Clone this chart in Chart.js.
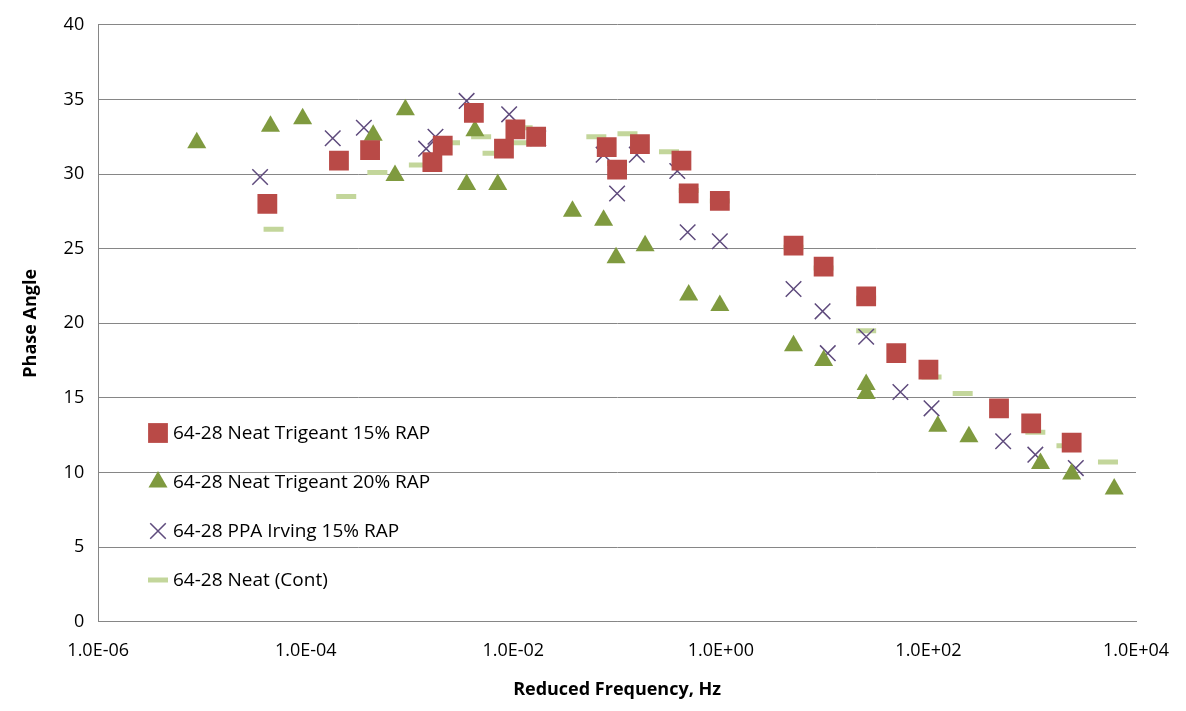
<!DOCTYPE html>
<html>
<head>
<meta charset="utf-8">
<script src="https://cdn.jsdelivr.net/npm/chart.js@4.4.0/dist/chart.umd.min.js"></script>
<style>
  html, body { margin: 0; padding: 0; background: #fff; }
  #wrap { width: 1186px; height: 711px; }
</style>
</head>
<body>
<div id="wrap"><canvas id="c"></canvas></div>
<script>
// log10 of reduced frequency, phase angle
const trig15X = [-4.37,-3.68,-3.38,-2.78,-2.68,-2.38,-2.09,-1.98,-1.78,-1.10,-1.00,-0.78,-0.38,-0.31,-0.01,0.70,0.99,1.40,1.69,2.00,2.68,2.99,3.38];
const trig15Y = [28.0,30.9,31.6,30.8,31.9,34.1,31.7,33.0,32.5,31.8,30.3,32.0,30.9,28.7,28.2,25.2,23.8,21.8,18.0,16.9,14.3,13.3,12.0];

const trig20X = [-5.05,-4.34,-4.03,-3.35,-3.14,-3.04,-2.37,-2.45,-2.15,-1.43,-1.13,-1.01,-0.73,-0.31,-0.01,0.70,0.99,1.40,1.40,2.09,2.39,3.08,3.38,3.79];
const trig20Y = [32.1,33.2,33.7,32.6,29.9,34.3,32.9,29.3,29.3,27.5,26.9,24.4,25.2,21.9,21.2,18.5,17.5,15.9,15.3,13.1,12.4,10.6,9.9,8.9];

const ppaX = [-4.44,-3.74,-3.44,-2.84,-2.75,-2.45,-2.04,-1.76,-1.13,-1.00,-0.81,-0.42,-0.32,-0.01,0.70,0.98,1.03,1.40,1.73,2.03,2.72,3.03,3.42];
const ppaY = [29.8,32.4,33.1,31.7,32.5,34.9,34.0,32.4,31.3,28.7,31.3,30.2,26.1,25.5,22.3,20.8,18.0,19.1,15.4,14.3,12.1,11.2,10.3];

const contX = [-4.31,-3.61,-3.31,-2.91,-2.61,-2.31,-2.20,-1.91,-1.91,-1.20,-1.00,-0.90,-0.50,-0.31,-0.01,0.70,0.99,1.40,1.40,2.03,2.33,3.03,3.33,3.73];
const contY = [26.3,28.5,30.1,30.6,32.1,32.5,31.4,33.1,32.1,32.5,30.7,32.7,31.5,28.9,28.2,25.1,23.7,21.7,19.5,16.4,15.3,12.7,11.8,10.7];

const xTicks = [1e-6, 1e-4, 1e-2, 1, 1e2, 1e4];
const yTicks = [0, 5, 10, 15, 20, 25, 30, 35, 40];

const pts = (xs, ys) => xs.map((x, i) => ({ x: Math.pow(10, x), y: ys[i] }));

const fmtE = v => {
  const e = Math.round(Math.log10(v));
  const s = e < 0 ? "-" : "+";
  return "1.0E" + s + String(Math.abs(e)).padStart(2, "0");
};

const FONT = "'Open Sans', sans-serif";

const series = [
  { label: "64-28 Neat Trigeant 15% RAP", data: pts(trig15X, trig15Y), pointStyle: "rect", pointRadius: 14,
    backgroundColor: "#b94a47", borderColor: "#b94a47", borderWidth: 0 },
  { label: "64-28 Neat Trigeant 20% RAP", data: pts(trig20X, trig20Y), pointStyle: "triangle", pointRadius: 11,
    backgroundColor: "#7f9a3f", borderColor: "#7f9a3f", borderWidth: 0 },
  { label: "64-28 PPA Irving 15% RAP", data: pts(ppaX, ppaY), pointStyle: "crossRot", pointRadius: 11,
    backgroundColor: "#5f4b7d", borderColor: "#5f4b7d", borderWidth: 1.5 },
  { label: "64-28 Neat (Cont)", data: pts(contX, contY), pointStyle: "line", pointRadius: 10,
    backgroundColor: "#c3d69b", borderColor: "#c3d69b", borderWidth: 5 }
];

// legend drawn inside the plot area
const innerLegend = {
  id: "innerLegend",
  afterDraw(chart) {
    const ctx = chart.ctx;
    const x0 = 158, y0 = 433, step = 49;
    ctx.save();
    ctx.font = "19px " + FONT;
    ctx.textBaseline = "middle";
    chart.data.datasets.forEach((ds, i) => {
      const y = y0 + i * step;
      ctx.fillStyle = ds.backgroundColor;
      ctx.strokeStyle = ds.borderColor;
      ctx.lineWidth = ds.borderWidth;
      Chart.helpers.drawPoint(ctx, {
        pointStyle: ds.pointStyle, radius: ds.pointRadius, rotation: 0,
        borderWidth: ds.borderWidth
      }, x0, y);
      ctx.fillStyle = "#000";
      ctx.fillText(ds.label, x0 + 15, y + 1);
    });
    ctx.restore();
  }
};

new Chart(document.getElementById("c"), {
  type: "scatter",
  data: { datasets: series },
  plugins: [innerLegend],
  options: {
    responsive: true,
    maintainAspectRatio: false,
    animation: false,
    layout: { padding: { top: 3, right: 50, left: 16, bottom: 6 } },
    plugins: { legend: { display: false }, tooltip: { enabled: false } },
    scales: {
      x: {
        type: "logarithmic", min: 1e-6, max: 1e4,
        afterBuildTicks: ax => { ax.ticks = xTicks.map(v => ({ value: v })); },
        ticks: { callback: v => fmtE(v), color: "#000", maxRotation: 0, padding: 10,
          font: { size: 18, family: FONT } },
        grid: { display: false, drawOnChartArea: false },
        border: { color: "#868686" },
        title: { display: true, text: "Reduced Frequency, Hz", color: "#000", padding: { top: 8 },
          font: { size: 18, weight: "bold", family: FONT } }
      },
      y: {
        min: 0, max: 40,
        afterBuildTicks: ax => { ax.ticks = yTicks.map(v => ({ value: v })); },
        ticks: { color: "#000", padding: 14,
          font: { size: 18, family: FONT } },
        grid: { color: "#868686", drawTicks: false },
        border: { color: "#868686" },
        title: { display: true, text: "Phase Angle", color: "#000", padding: { bottom: 8 },
          font: { size: 18, weight: "bold", family: FONT } }
      }
    }
  }
});
</script>
</body>
</html>
